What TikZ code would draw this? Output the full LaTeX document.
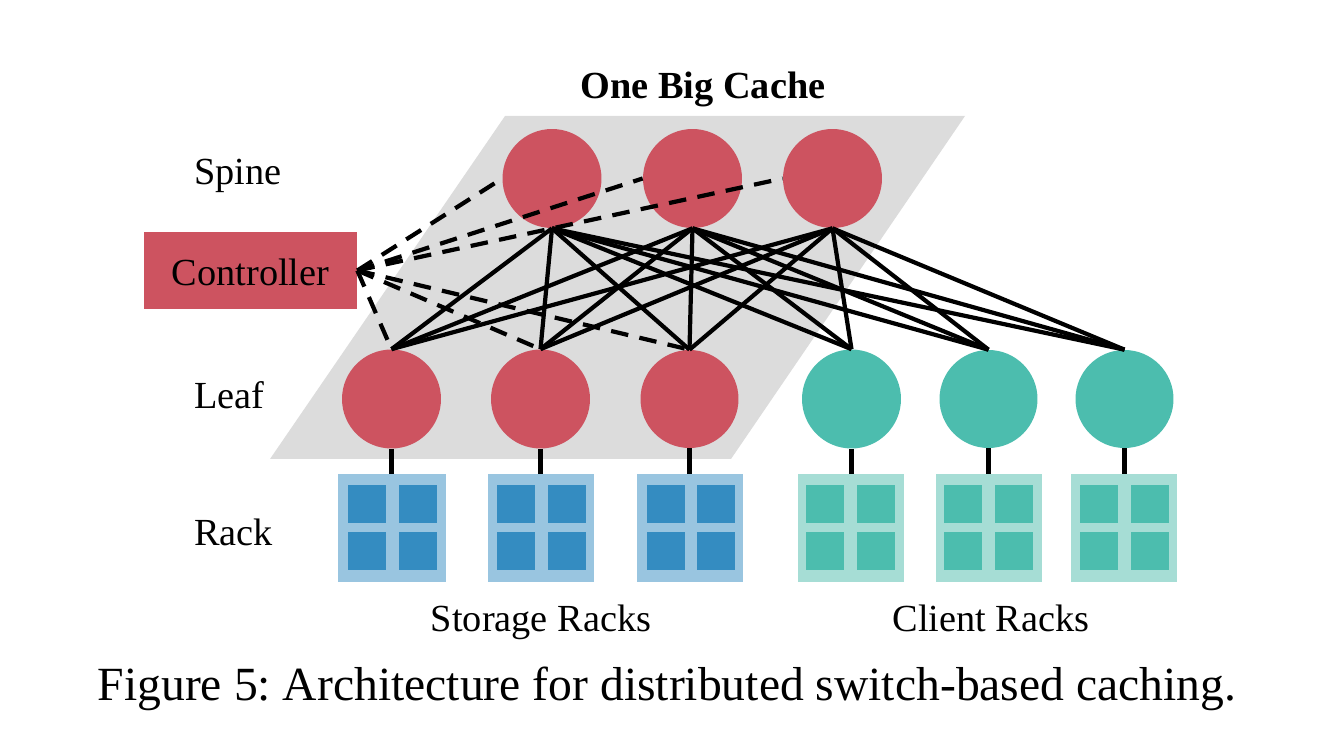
\documentclass[tikz,border=0pt]{standalone}
\usepackage{fontspec}
\setmainfont{Liberation Serif}
\usepackage{xcolor}
\usetikzlibrary{positioning,calc}
\definecolor{switchred}{HTML}{CD5360}
\definecolor{switchteal}{HTML}{4CBDAE}
\definecolor{rackblue}{HTML}{348CC1}
\definecolor{rackbluebg}{HTML}{99C5E0}
\definecolor{racktealbg}{HTML}{A6DDD5}
\definecolor{planegray}{HTML}{DCDCDC}

\begin{document}
\frenchspacing
\begin{tikzpicture}[
    x=0.02cm, y=-0.02cm,
    redsw/.style={circle, fill=switchred, minimum size=1.98cm, inner sep=0pt},
    tealsw/.style={circle, fill=switchteal, minimum size=1.98cm, inner sep=0pt},
    bluerack/.style={rectangle, fill=rackbluebg, minimum width=2.12cm, minimum height=2.16cm, inner sep=0pt},
    tealrack/.style={rectangle, fill=racktealbg, minimum width=2.12cm, minimum height=2.16cm, inner sep=0pt},
    server/.style={rectangle, minimum size=0.76cm, inner sep=0pt},
    label/.style={font=\fontsize{21.8}{24}\selectfont, inner sep=0pt, anchor=base},
    wire/.style={line width=2.4pt, black},
    ctrl/.style={line width=2.4pt, black, dash pattern=on 10pt off 6.5pt},
]
\useasboundingbox (0,0) rectangle (1340,753);

% Plane behind the switches
\fill[planegray] (505,116) -- (965,116) -- (731,459) -- (270,459) -- cycle;

% Spine switches
\node[redsw] (spineA) at (552,178.5) {};
\node[redsw] (spineB) at (692.5,178.5) {};
\node[redsw] (spineC) at (832.5,178.5) {};

% Leaf switches
\node[redsw] (leafA) at (391.5,399) {};
\node[redsw] (leafB) at (540.5,399) {};
\node[redsw, minimum size=1.96cm] (leafC) at (689.5,399) {};
\node[tealsw] (leafD) at (851.5,399) {};
\node[tealsw, minimum size=1.96cm] (leafE) at (988.5,399) {};
\node[tealsw, minimum size=1.96cm] (leafF) at (1124.5,399) {};

% Racks
\node[bluerack, minimum width=2.16cm] (rackA) at (392,528) {};
\node[bluerack] (rackB) at (541,528) {};
\node[bluerack] (rackC) at (690,528) {};
\node[tealrack] (rackD) at (851,528) {};
\node[tealrack] (rackE) at (989,528) {};
\node[tealrack] (rackF) at (1124,528) {};

% Servers in each rack
\foreach \rack/\dxa/\dxb in {rackA/-25/26, rackB/-25/26, rackC/-24/26} {
    \foreach \dx/\dy in {\dxa/-24, \dxb/-24, \dxa/23, \dxb/23} {
        \node[server, fill=rackblue] at ($(\rack)+(\dx,\dy)$) {};
    }
}
\foreach \rack/\dxa/\dxb in {rackD/-26/25, rackE/-26/25, rackF/-25/26} {
    \foreach \dx/\dy in {\dxa/-24, \dxb/-24, \dxa/23, \dxb/23} {
        \node[server, fill=switchteal] at ($(\rack)+(\dx,\dy)$) {};
    }
}

% Controller
\node[rectangle, fill=switchred, minimum width=4.26cm, minimum height=1.54cm, inner sep=0pt] (controller) at (250.5,270.5) {};

% Leaf to rack
\foreach \leaf/\rack in {leafA/rackA, leafB/rackB, leafC/rackC, leafD/rackD, leafE/rackE, leafF/rackF} {
    \draw[wire] (\leaf.south) -- (\leaf.south |- \rack.north);
}

% Spine to leaf
\foreach \spine in {spineA, spineB, spineC} {
    \foreach \leaf in {leafA, leafB, leafC, leafD, leafE, leafF} {
        \draw[wire] (\spine.south) -- (\leaf.north);
    }
}

% Controller connections
\foreach \spine in {spineA, spineB, spineC} {
    \draw[ctrl] (controller.east) -- (\spine.west);
}
\foreach \leaf in {leafA, leafB, leafC} {
    \draw[ctrl] (controller.east) -- (\leaf.north);
}

% Labels
\node[label, font=\fontsize{21.8}{24}\selectfont\bfseries] (title) at (703,99) {One Big Cache};
\node[label, anchor=base west] (spinelabel) at (194,185) {Spine};
\node[label] (controllertext) at (250.5,286) {Controller};
\node[label, anchor=base west] (leaflabel) at (194,409) {Leaf};
\node[label, anchor=base west] (racklabel) at (194,545) {Rack};
\node[label] (storagelabel) at (541,631) {Storage Racks};
\node[label] (clientlabel) at (991,631) {Client Racks};
\node[label, font=\fontsize{27.1}{30}\selectfont] (caption) at (667,700) {Figure 5: Architecture for distributed switch-based caching.};

\end{tikzpicture}
\end{document}
